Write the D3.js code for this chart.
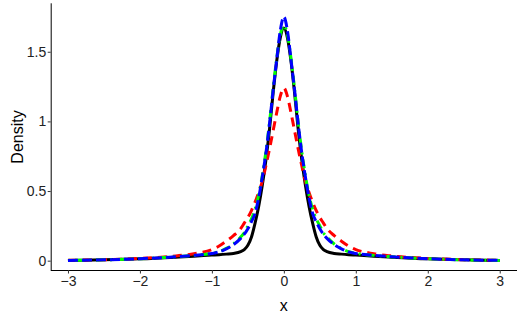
<!DOCTYPE html>
<html><head><meta charset="utf-8">
<script src="https://cdn.jsdelivr.net/npm/d3@7"></script>
<style>body{margin:0;background:#fff;} svg{display:block;font-family:"Liberation Sans",Arial,sans-serif;}</style>
</head><body>
<script>
const xValues = [-3,-2.5,-2,-1.5,-1.25,-1,-0.9,-0.8,-0.7,-0.6,-0.55,-0.5,-0.45,-0.4,-0.35,-0.3,-0.25,-0.2,-0.15,-0.1,-0.05,0,
  0.05,0.1,0.15,0.2,0.25,0.3,0.35,0.4,0.45,0.5,0.55,0.6,0.7,0.8,0.9,1,1.25,1.5,2,2.5,3];
const blackY = [0.002,0.006,0.013,0.025,0.032,0.04,0.043,0.047,0.052,0.065,0.08,0.11,0.17,0.27,0.39,0.54,0.72,0.94,1.2,1.43,1.6,1.67,
  1.6,1.43,1.2,0.94,0.72,0.54,0.39,0.27,0.17,0.11,0.08,0.065,0.052,0.047,0.043,0.04,0.032,0.025,0.013,0.006,0.002];
const redY = [0.003,0.007,0.016,0.034,0.05,0.08,0.105,0.14,0.18,0.23,0.27,0.31,0.36,0.42,0.49,0.57,0.68,0.8,0.93,1.06,1.18,1.24,
  1.18,1.06,0.93,0.8,0.68,0.57,0.49,0.42,0.36,0.31,0.27,0.23,0.18,0.14,0.105,0.08,0.05,0.034,0.016,0.007,0.003];
const greenY = [0.002,0.006,0.014,0.028,0.038,0.053,0.065,0.088,0.12,0.17,0.2,0.25,0.3,0.37,0.47,0.61,0.78,0.99,1.23,1.45,1.62,1.69,
  1.62,1.45,1.23,0.99,0.78,0.61,0.47,0.37,0.3,0.25,0.2,0.17,0.12,0.088,0.065,0.053,0.038,0.028,0.014,0.006,0.002];
const blueY = [0.002,0.006,0.014,0.028,0.038,0.052,0.063,0.085,0.115,0.16,0.19,0.23,0.28,0.34,0.45,0.6,0.77,0.98,1.22,1.44,1.65,1.75,
  1.65,1.44,1.22,0.98,0.77,0.6,0.45,0.34,0.28,0.23,0.19,0.16,0.115,0.085,0.063,0.052,0.038,0.028,0.014,0.006,0.002];
const xTicks = [-3,-2,-1,0,1,2,3];
const yTicks = [0,0.5,1,1.5];
const seriesNames = ["black","red","green","blue"];

const W = 519, H = 324;
const svg = d3.select("body").append("svg").attr("width", W).attr("height", H);
const x = d3.scaleLinear().domain([-3.24, 3.24]).range([50.7, 517]);
const y = d3.scaleLinear().domain([-0.067, 1.848]).range([270, 3.3]);

const styles = {
  black: {color:"#000000", dash:null},
  red: {color:"#FF0000", dash:"9,6"},
  green: {color:"#00FF00", dash:"2,5,9,5"},
  blue: {color:"#0000FF", dash:"10,4"}
};
const data = {black: blackY, red: redY, green: greenY, blue: blueY};
const line = d3.line().x(d => x(d[0])).y(d => y(d[1])).curve(d3.curveMonotoneX);
seriesNames.forEach(n => {
  const pts = xValues.map((v,i) => [v, data[n][i]]);
  svg.append("path").datum(pts).attr("d", line)
    .attr("fill","none").attr("stroke", styles[n].color)
    .attr("stroke-width", 3).attr("stroke-dasharray", styles[n].dash)
    .attr("stroke-linejoin","round");
});

const fmt = d => d3.format("~g")(d).replace("-", "\u2212");
const xAxis = svg.append("g").attr("transform","translate(0,270)")
  .call(d3.axisBottom(x).tickValues(xTicks).tickSize(3.5).tickPadding(2.5).tickFormat(fmt));
const yAxis = svg.append("g").attr("transform","translate(50.7,0)")
  .call(d3.axisLeft(y).tickValues(yTicks).tickSize(3).tickPadding(1.5).tickFormat(fmt));
[xAxis, yAxis].forEach(g => {
  g.select(".domain").attr("stroke","#000").attr("stroke-width",1);
  g.selectAll(".tick line").attr("stroke","#333").attr("stroke-width",1);
  g.selectAll(".tick text").attr("fill","#222").style("font-size","14px").style("font-family","Liberation Sans, Arial, sans-serif");
});
xAxis.select(".domain").attr("d", "M50.7,0.5H517");
yAxis.select(".domain").attr("d", "M0.5,3.3V270");

svg.append("text").attr("x", 283.7).attr("y", 311).attr("text-anchor","middle")
  .style("font-size","16px").attr("fill","#000").text("x");
svg.append("text").attr("transform","translate(23,137) rotate(-90)").attr("text-anchor","middle")
  .style("font-size","16px").attr("fill","#000").text("Density");
</script>
</body></html>
